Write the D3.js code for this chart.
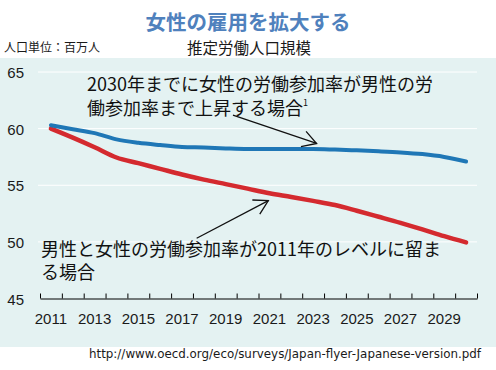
<!DOCTYPE html>
<html>
<head>
<meta charset="utf-8">
<script src="https://cdn.jsdelivr.net/npm/d3@7"></script>
<style>
  html, body { margin: 0; padding: 0; background: #ffffff; }
  svg { display: block; }
</style>
</head>
<body>
<div id="chart"></div>
<script>
// ---- data ----
const years = [2011, 2012, 2013, 2014, 2015, 2016, 2017, 2018, 2019, 2020,
               2021, 2022, 2023, 2024, 2025, 2026, 2027, 2028, 2029, 2030];
const convergeValues = [60.3, 59.95, 59.6, 59.05, 58.75, 58.55, 58.38, 58.33, 58.25, 58.2,
                        58.2, 58.2, 58.2, 58.15, 58.08, 58.0, 57.9, 57.75, 57.5, 57.1];
const constantValues = [60.0, 59.2, 58.35, 57.45, 56.95, 56.45, 55.95, 55.5, 55.1, 54.7,
                        54.3, 53.97, 53.62, 53.25, 52.75, 52.22, 51.68, 51.1, 50.5, 49.95];
const yTickValues = [45, 50, 55, 60, 65];
const xTickLabels = [2011, 2013, 2015, 2017, 2019, 2021, 2023, 2025, 2027, 2029];
const titleText = "女性の雇用を拡大する";
const subtitleText = "推定労働人口規模";
const unitText = "人口単位：百万人";
const noteConverge = ["2030年までに女性の労働参加率が男性の労", "働参加率まで上昇する場合"];
const noteConstant = ["男性と女性の労働参加率が2011年のレベルに留ま", "る場合"];
const sourceText = "http://www.oecd.org/eco/surveys/Japan-flyer-Japanese-version.pdf";
// arrows in data coordinates: [year, value] start -> end
const arrowConverge = [[2019.33, 61.2], [2023.16, 58.69]];
const arrowConstant = [[2017.67, 50.32], [2020.95, 53.64]];

// ---- layout ----
const W = 496, H = 370;
const svg = d3.select("#chart").append("svg").attr("width", W).attr("height", H);
const jp = "'Noto Sans CJK JP', 'Noto Sans CJK SC', sans-serif";

svg.append("rect").attr("x", 0).attr("y", 58).attr("width", W).attr("height", 289)
  .attr("fill", "#e4f2f2");

const x = d3.scaleLinear().domain([2010.5, 2030.5]).range([40, 477]);
const y = d3.scaleLinear().domain([45, 65]).range([298.5, 72]);

// gridlines
svg.append("g").selectAll("line").data(yTickValues.filter(v => v > 45)).join("line")
  .attr("x1", 38).attr("x2", 477)
  .attr("y1", d => y(d)).attr("y2", d => y(d))
  .attr("stroke", "#ffffff").attr("stroke-width", 1);

// y labels
svg.append("g").selectAll("text").data(yTickValues).join("text")
  .attr("x", 24).attr("y", d => y(d) + 6)
  .attr("text-anchor", "end")
  .attr("font-family", "'Liberation Sans', Arial, sans-serif")
  .attr("font-size", 15).attr("fill", "#1a1a1a")
  .text(d => d);

// x axis (ticks at year boundaries)
const boundaries = years.map(v => v - 0.5).concat([years[years.length - 1] + 0.5]);
const xAxis = d3.axisBottom(x).tickValues(boundaries).tickFormat("")
  .tickSizeInner(-5).tickSizeOuter(0);
const gx = svg.append("g").attr("transform", `translate(0,${y(45)})`).call(xAxis);
gx.select(".domain").attr("stroke", "#000").attr("stroke-width", 1.2);
gx.selectAll(".tick line").attr("stroke", "#000").attr("stroke-width", 1);

svg.append("g").selectAll("text").data(xTickLabels).join("text")
  .attr("x", d => x(d)).attr("y", 324)
  .attr("text-anchor", "middle")
  .attr("font-family", "'Liberation Sans Narrow', 'Arial Narrow', 'Liberation Sans', sans-serif")
  .attr("font-size", 15).attr("fill", "#1a1a1a")
  .text(d => d);

// lines
const line = d3.line().x(d => x(d[0])).y(d => y(d[1])).curve(d3.curveMonotoneX);
svg.append("path").datum(years.map((yr, i) => [yr, constantValues[i]]))
  .attr("d", line).attr("fill", "none").attr("stroke", "#d42a2f")
  .attr("stroke-width", 4.5).attr("stroke-linecap", "round");
svg.append("path").datum(years.map((yr, i) => [yr, convergeValues[i]]))
  .attr("d", line).attr("fill", "none").attr("stroke", "#1f77b6")
  .attr("stroke-width", 4).attr("stroke-linecap", "round");

// arrows
function drawArrow(a) {
  const x1 = x(a[0][0]), y1 = y(a[0][1]), x2 = x(a[1][0]), y2 = y(a[1][1]);
  const ang = Math.atan2(y2 - y1, x2 - x1);
  const L = 16, spread = Math.PI / 6;
  const g = svg.append("g").attr("stroke", "#111").attr("stroke-width", 1.3).attr("fill", "none");
  g.append("line").attr("x1", x1).attr("y1", y1).attr("x2", x2).attr("y2", y2);
  g.append("path").attr("d",
    `M${x2 - L * Math.cos(ang - spread)},${y2 - L * Math.sin(ang - spread)}L${x2},${y2}L${x2 - L * Math.cos(ang + spread)},${y2 - L * Math.sin(ang + spread)}`);
}
drawArrow(arrowConverge);
drawArrow(arrowConstant);

// annotation text
const t1 = svg.append("text").attr("font-family", jp).attr("font-size", 18).attr("fill", "#111");
t1.append("tspan").attr("x", 87).attr("y", 91).text(noteConverge[0]);
t1.append("tspan").attr("x", 87).attr("y", 115).text(noteConverge[1]);
t1.append("tspan").attr("font-size", 9).attr("dy", -9).text("1");

const t2 = svg.append("text").attr("font-family", jp).attr("font-size", 18).attr("fill", "#111");
t2.append("tspan").attr("x", 41).attr("y", 256).text(noteConstant[0]);
t2.append("tspan").attr("x", 41).attr("y", 279).text(noteConstant[1]);

// titles
svg.append("text").attr("x", 248).attr("y", 30).attr("text-anchor", "middle")
  .attr("font-family", jp).attr("font-size", 20.5).attr("font-weight", "bold")
  .attr("fill", "#4f81bd").text(titleText);
svg.append("text").attr("x", 249).attr("y", 54).attr("text-anchor", "middle")
  .attr("font-family", jp).attr("font-size", 15.5).attr("fill", "#1a1a1a").text(subtitleText);
svg.append("text").attr("x", 4).attr("y", 52)
  .attr("font-family", jp).attr("font-size", 12).attr("fill", "#1a1a1a").text(unitText);

// source
svg.append("text").attr("x", 89).attr("y", 358)
  .attr("font-family", "'DejaVu Sans', Verdana, sans-serif").attr("font-size", 11.5)
  .attr("textLength", 392).attr("lengthAdjust", "spacingAndGlyphs")
  .attr("fill", "#1a1a1a").text(sourceText);
</script>
</body>
</html>
